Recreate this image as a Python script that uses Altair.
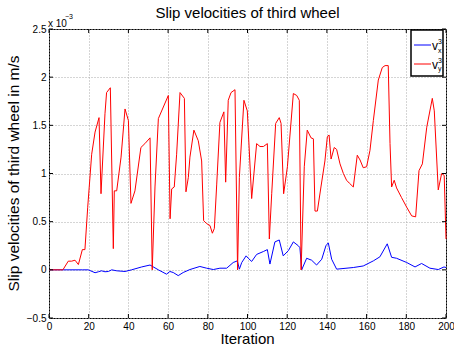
import altair as alt
import pandas as pd

# ---- data (values in units of 1e-3 m/s) ----
red_x = [0, 7, 9.7, 11.4, 13.1, 14.8, 16.8, 18.1, 19.5, 21.5, 23.2, 25.2, 26.2, 28.2, 29.0, 30.9,
         32.4, 32.9, 34.1, 36.3, 38.3, 40.0, 41.3, 43.3, 46.3, 48.3, 50.9, 52.0, 53.4, 55.1, 60.1,
         61.0, 61.8, 63.1, 64.3, 66.0, 68.2, 69.0, 70.2, 71.0, 73.0, 75.2, 76.9, 77.9, 79.4, 81.1,
         82.3, 83.3, 84.5, 86.1, 88.1, 89.0, 90.3, 91.7, 93.7, 95.0, 95.9, 98.2, 99.9, 102.1, 104.6,
         106.3, 108.0, 110.0, 111.0, 112.2, 114.2, 116.0, 116.9, 118.2, 120.1, 123.1, 124.8, 126.1,
         127.0, 128.6, 130.1, 132.0, 133.2, 134.0, 135.2, 137.0, 139.0, 140.2, 141.1, 142.1, 143.7,
         144.9, 146.6, 148.3, 149.9, 151.3, 153.3, 155.3, 156.7, 158.3, 160.0, 161.7, 163.4, 165.9,
         167.9, 169.3, 170.9, 171.8, 172.6, 173.9, 175.1, 177.6, 180.2, 182.7, 184.7, 186.4, 188.1,
         190.3, 193.1, 194.1, 196.1, 197.8, 199.1, 200]
red_y = [0, 0, 0.09, 0.09, 0.10, 0.055, 0.21, 0.21, 0.65, 1.2, 1.43, 1.58, 0.79, 1.62, 1.84, 1.89,
         0.22, 0.82, 0.82, 1.17, 1.67, 1.55, 0.69, 0.82, 1.27, 1.31, 1.37, 0, 0.86, 1.57, 1.81,
         0.53, 0.84, 0.86, 1.2, 1.84, 1.78, 0.81, 0.96, 1.17, 1.45, 1.34, 1.13, 0.51, 0.48, 0.46,
         0.38, 0.43, 0.89, 1.53, 1.64, 0.91, 1.76, 1.84, 1.87, 0, 0.96, 1.76, 1.65, 0.74, 1.31,
         1.28, 1.28, 1.31, 0.32, 0.79, 1.52, 1.58, 1.52, 0.79, 1.07, 1.83, 1.81, 1.76,
         0, 1.07, 1.45, 1.37, 1.36, 0.61, 0.61, 0.86, 1.13, 1.38, 1.40, 1.15, 1.27,
         1.25, 1.10, 1.0, 0.93, 0.90, 0.86, 1.19, 1.14, 1.06, 1.07, 1.24, 1.55, 1.97,
         2.10, 2.12, 2.12, 1.31, 0.86, 0.93, 0.85, 0.75, 0.65, 0.56, 0.55, 1.03, 1.10,
         1.48, 1.78, 1.65, 0.83, 1.0, 0.98, 0.32]

blue_x = [0, 17, 19.8, 23.2, 24.9, 26.5, 28.2, 29.9, 31.6, 34.1, 38.3, 41.6, 46.7, 50.9, 55.1,
          59.2, 60.9, 62.6, 65.1, 67.6, 71.0, 76.0, 79.4, 82.8, 86.1, 89.5, 92.8, 94.9, 95.9,
          97.1, 99.3, 100.4, 102.1, 104.6, 108.0, 110.0, 111.3, 113.8, 116.0, 118.0, 120.6,
          123.1, 125.6, 126.4, 127.3, 129.8, 132.3, 134.8, 137.4, 139.5, 140.7, 142.4, 144.9,
          153.3, 158.3, 163.4, 166.7, 170.4, 172.6, 175.1, 180.2, 184.4, 187.7, 191.9, 196.1,
          199.0, 200]
blue_y = [0, 0, 0, -0.03, -0.02, -0.01, -0.02, -0.017, 0, -0.01, -0.017, 0, 0.03, 0.05, 0,
          -0.045, -0.017, -0.028, -0.06, -0.028, 0.003, 0.035, 0.017, 0.003, 0.017, 0.017, 0.076,
          0.093, 0.007, 0.076, 0.145, 0.12, 0.087, 0.16, 0.19, 0.21, 0.06, 0.29, 0.31, 0.145, 0.20,
          0.29, 0.25, 0.23, 0, 0.12, 0.10, 0.05, 0.11, 0.25, 0.28, 0.11, 0.007,
          0.024, 0.04, 0.093, 0.135, 0.27, 0.13, 0.12, 0.076, 0.03, 0.066, 0.017, 0.003,
          0.03, 0.024]

x_ticks = [0, 20, 40, 60, 80, 100, 120, 140, 160, 180, 200]
y_ticks = [-0.5, 0, 0.5, 1, 1.5, 2, 2.5]

W, H = 397, 289
FONT = "Liberation Sans"

df_red = pd.DataFrame({"x": red_x, "y": red_y})
df_blue = pd.DataFrame({"x": blue_x, "y": blue_y})
df_xt = pd.DataFrame({"t": x_ticks})
df_yt = pd.DataFrame({"t": y_ticks})

xs = alt.Scale(domain=[0, 200], nice=False, zero=False)
ys = alt.Scale(domain=[-0.5, 2.5], nice=False, zero=False)

x_axis = alt.Axis(values=x_ticks, grid=True, gridDash=[1, 2], gridColor="#aaaaaa",
                  tickSize=0, domain=False, labelPadding=3, labelFont=FONT,
                  labelFontSize=10, labelColor="black", title=None, labelFlush=False,
                  labelOverlap=False, format="d")
y_axis = alt.Axis(values=y_ticks, grid=True, gridDash=[1, 2], gridColor="#aaaaaa",
                  tickSize=0, domain=False, labelPadding=3, labelFont=FONT,
                  labelFontSize=10, labelColor="black", title=None, format="~g",
                  labelFlush=False, labelOverlap=False)

blue = alt.Chart(df_blue).mark_line(color="#0000ff", strokeWidth=1).encode(
    x=alt.X("x:Q", scale=xs, axis=x_axis),
    y=alt.Y("y:Q", scale=ys, axis=y_axis),
)
red = alt.Chart(df_red).mark_line(color="#ff0000", strokeWidth=1).encode(
    x=alt.X("x:Q", scale=xs, axis=x_axis),
    y=alt.Y("y:Q", scale=ys, axis=y_axis),
)

# inward ticks on all four sides
xt_bot = alt.Chart(df_xt).mark_rule(color="black").encode(
    x=alt.X("t:Q", scale=xs, axis=x_axis), y=alt.value(H), y2=alt.value(H - 4))
xt_top = alt.Chart(df_xt).mark_rule(color="black").encode(
    x=alt.X("t:Q", scale=xs, axis=x_axis), y=alt.value(0), y2=alt.value(4))
yt_left = alt.Chart(df_yt).mark_rule(color="black").encode(
    y=alt.Y("t:Q", scale=ys, axis=y_axis), x=alt.value(0), x2=alt.value(4))
yt_right = alt.Chart(df_yt).mark_rule(color="black").encode(
    y=alt.Y("t:Q", scale=ys, axis=y_axis), x=alt.value(W), x2=alt.value(W - 4))

# texts
def txt(s, x, y, size, align="left", angle=0):
    kw = dict(text=s, font=FONT, fontSize=size, align=align, baseline="alphabetic",
              color="black")
    if angle:
        kw["angle"] = angle
    return alt.Chart(df_xt.head(1)).mark_text(**kw).encode(x=alt.value(x), y=alt.value(y))

title = txt("Slip velocities of third wheel", W / 2, -11, 15, align="center")
ytitle = txt("Slip velocities of third wheel in m/s", -30, H / 2, 15.5, align="center", angle=270)
xtitle = txt("Iteration", W / 2, H + 26, 15, align="center")
exp1 = txt("x 10", -1, -2, 10)
exp2 = txt("\u22123", 16, -10, 7)

# legend
leg_box = alt.Chart(df_xt.head(1)).mark_rect(fill="white", stroke="black", strokeWidth=1.5).encode(
    x=alt.value(362), x2=alt.value(394), y=alt.value(1), y2=alt.value(47))
leg_b = alt.Chart(df_xt.head(1)).mark_rule(color="#0000ff").encode(
    x=alt.value(365), x2=alt.value(382), y=alt.value(16))
leg_r = alt.Chart(df_xt.head(1)).mark_rule(color="#ff0000").encode(
    x=alt.value(365), x2=alt.value(382), y=alt.value(35))
lv1 = txt("v", 383, 21, 12)
ls1 = txt("3", 389, 15, 7)
lb1 = txt("x", 389, 24, 7)
lv2 = txt("v", 383, 40, 12)
ls2 = txt("3", 389, 34, 7)
lb2 = txt("y", 389, 42, 7)

chart = alt.layer(
    blue, red, xt_bot, xt_top, yt_left, yt_right,
    title, ytitle, xtitle, exp1, exp2,
    leg_box, leg_b, leg_r, lv1, ls1, lb1, lv2, ls2, lb2,
).properties(
    width=W, height=H,
    autosize=alt.AutoSizeParams(type="none"),
    padding={"left": 49, "top": 29, "right": 8, "bottom": 34},
    background="white",
).configure_view(stroke="black", strokeWidth=1).configure_axis(labelOverlap=False)

chart.save("out.html", embed_options={"renderer": "svg", "actions": False})
